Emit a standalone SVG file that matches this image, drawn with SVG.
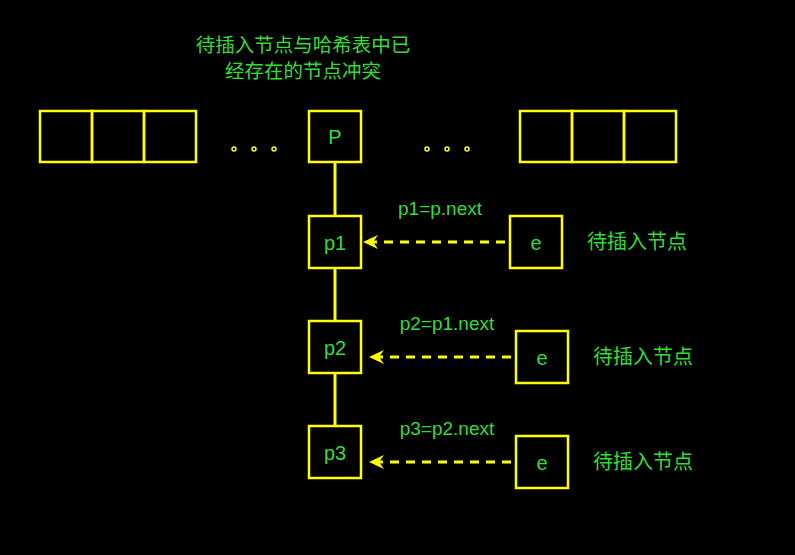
<svg xmlns="http://www.w3.org/2000/svg" width="795" height="555" viewBox="0 0 795 555">
<defs>
<style>
.box{fill:none;stroke:#ffff00;stroke-width:2.5}
.t{fill:#33dd33;font-family:"Liberation Sans","Noto Sans CJK SC",sans-serif;font-size:19px;text-anchor:middle;dominant-baseline:central}
.n{font-size:20px}
.cn{fill:#33dd33;font-family:"Noto Sans CJK SC","Liberation Sans",sans-serif;font-size:20px;text-anchor:middle;dominant-baseline:central}
.ti{font-size:19.5px}
.lk{stroke:#ffff00;stroke-width:3;fill:none}
.dash{stroke:#ffff00;stroke-width:3;fill:none;stroke-dasharray:9 7}
.dot{fill:none;stroke:#ffff00;stroke-width:1.5}
</style>
<marker id="ah" viewBox="0 0 16 14" refX="15" refY="7" markerWidth="16" markerHeight="14" markerUnits="userSpaceOnUse" orient="auto">
<path d="M15,7 L0,0 L5,7 L0,14 Z" fill="#ffff00"/>
</marker>
</defs>
<rect width="795" height="555" fill="#000"/>
<g id="title">
<text class="cn ti" x="303" y="43">待插入节点与哈希表中已</text>
<text class="cn ti" x="303" y="69">经存在的节点冲突</text>
</g>
<g id="arrayLeft">
<rect class="box" x="40" y="111" width="52" height="51"/>
<rect class="box" x="92" y="111" width="52" height="51"/>
<rect class="box" x="144" y="111" width="52" height="51"/>
</g>
<g id="dotsLeft">
<circle class="dot" cx="234" cy="149" r="2"/>
<circle class="dot" cx="254" cy="149" r="2"/>
<circle class="dot" cx="274" cy="149" r="2"/>
</g>
<g id="nodeP">
<rect class="box" x="309" y="111" width="52" height="51"/>
<text class="t n" x="335" y="137">P</text>
</g>
<g id="dotsRight">
<circle class="dot" cx="427" cy="149" r="2"/>
<circle class="dot" cx="447" cy="149" r="2"/>
<circle class="dot" cx="467" cy="149" r="2"/>
</g>
<g id="arrayRight">
<rect class="box" x="520" y="111" width="52" height="51"/>
<rect class="box" x="572" y="111" width="52" height="51"/>
<rect class="box" x="624" y="111" width="52" height="51"/>
</g>
<g id="nodeP1">
<rect class="box" x="309" y="216" width="52" height="52"/>
<text class="t n" x="335" y="243">p1</text>
</g>
<g id="nodeP2">
<rect class="box" x="309" y="321" width="52" height="52"/>
<text class="t n" x="335" y="348">p2</text>
</g>
<g id="nodeP3">
<rect class="box" x="309" y="426" width="52" height="52"/>
<text class="t n" x="335" y="453">p3</text>
</g>
<g id="nodeE1">
<rect class="box" x="510" y="216" width="52" height="52"/>
<text class="t n" x="536" y="243">e</text>
</g>
<g id="nodeE2">
<rect class="box" x="516" y="331" width="52" height="52"/>
<text class="t n" x="542" y="358">e</text>
</g>
<g id="nodeE3">
<rect class="box" x="516" y="436" width="52" height="52"/>
<text class="t n" x="542" y="463">e</text>
</g>
<g id="connectors">
<line class="lk" x1="335" y1="162" x2="335" y2="216"/>
<line class="lk" x1="335" y1="268" x2="335" y2="321"/>
<line class="lk" x1="335" y1="373" x2="335" y2="426"/>
<line class="dash" x1="505" y1="242" x2="363" y2="242" marker-end="url(#ah)"/>
<line class="dash" x1="511" y1="357" x2="369" y2="357" marker-end="url(#ah)"/>
<line class="dash" x1="511" y1="462" x2="369" y2="462" marker-end="url(#ah)"/>
</g>
<g id="labels">
<text class="t" x="440" y="208">p1=p.next</text>
<text class="t" x="447" y="323">p2=p1.next</text>
<text class="t" x="447" y="428">p3=p2.next</text>
<text class="cn" x="637" y="240">待插入节点</text>
<text class="cn" x="643" y="355">待插入节点</text>
<text class="cn" x="643" y="460">待插入节点</text>
</g>
</svg>
